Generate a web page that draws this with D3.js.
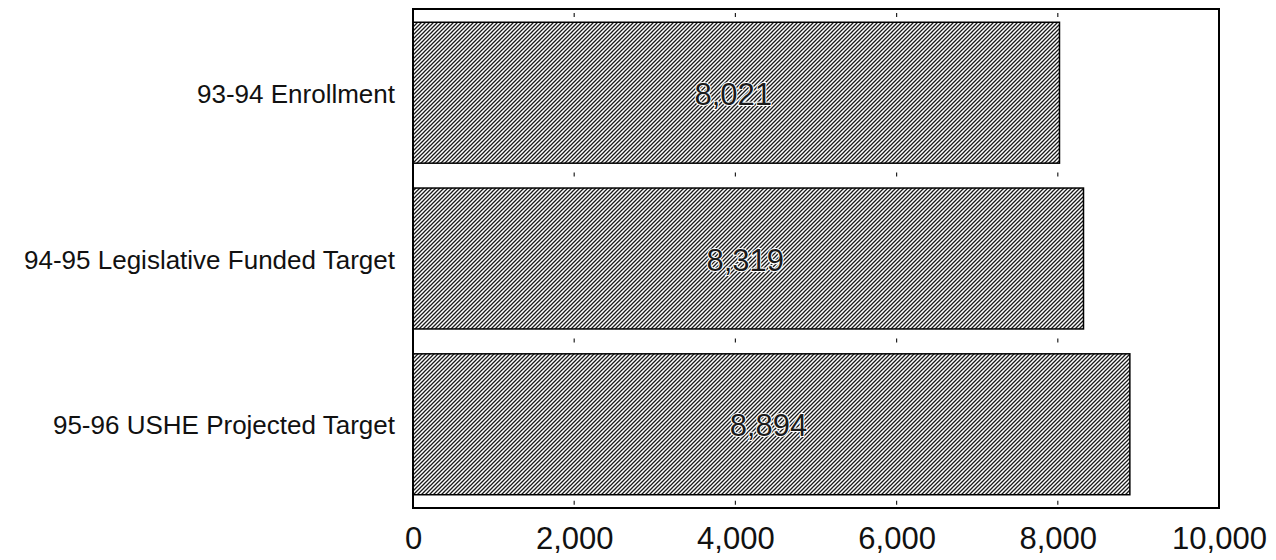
<!DOCTYPE html>
<html>
<head>
<meta charset="utf-8">
<script src="https://cdn.jsdelivr.net/npm/d3@7"></script>
<style>
  body { margin: 0; background: #fff; }
  text { font-family: "Liberation Sans", Arial, Helvetica, sans-serif; fill: #111; }
</style>
</head>
<body>
<div id="chart"></div>
<script>
// chart values
const categories = ["93-94 Enrollment", "94-95 Legislative Funded Target", "95-96 USHE Projected Target"];
const enrollment = [8021, 8319, 8894];
const xTicks = [0, 2000, 4000, 6000, 8000, 10000];

const width = 1276, height = 560;
const margin = {top: 9, right: 57, bottom: 52, left: 413};

const svg = d3.select("#chart").append("svg")
    .attr("width", width).attr("height", height);

// diagonal hatch like the scanned original
const pat = svg.append("defs").append("pattern")
    .attr("id", "hatch")
    .attr("patternUnits", "userSpaceOnUse")
    .attr("width", 4).attr("height", 4);
pat.append("rect").attr("width", 4).attr("height", 4).attr("fill", "#fff");
pat.append("path")
    .attr("d", "M-1,1 l2,-2 M0,4 l4,-4 M3,5 l2,-2")
    .attr("stroke", "#1a1a1a").attr("stroke-width", 1.3);

const x = d3.scaleLinear()
    .domain([0, 10000])
    .range([margin.left, width - margin.right]);

const y = d3.scaleBand()
    .domain(categories)
    .range([margin.top, height - margin.bottom])
    .paddingInner(0.15)
    .paddingOuter(0.08);

const data = categories.map((c, i) => ({cat: c, val: enrollment[i]}));

// bars
svg.selectAll("rect.bar").data(data)
    .join("rect")
    .attr("class", "bar")
    .attr("x", x(0))
    .attr("y", d => y(d.cat))
    .attr("width", d => x(d.val) - x(0))
    .attr("height", y.bandwidth())
    .attr("fill", "url(#hatch)")
    .attr("stroke", "#000")
    .attr("stroke-width", 1.5);

// tiny tick marks in the gaps between bars
const gapY = categories.map(c => y(c) - y.step() * y.paddingInner() / 2 - 1)
    .concat([y(categories[categories.length - 1]) + y.bandwidth() + 8]);
gapY[0] = margin.top + 6;
gapY.forEach(gy => {
    svg.selectAll(null).data(xTicks.slice(1, -1))
        .join("line")
        .attr("x1", d => x(d)).attr("x2", d => x(d))
        .attr("y1", gy - 2).attr("y2", gy + 2)
        .attr("stroke", "#222").attr("stroke-width", 1.2);
});

// frame
svg.append("rect")
    .attr("x", x(0)).attr("y", margin.top)
    .attr("width", x(10000) - x(0))
    .attr("height", height - margin.bottom - margin.top)
    .attr("fill", "none")
    .attr("stroke", "#000")
    .attr("stroke-width", 2);

// value labels inside bars
svg.selectAll("text.val").data(data)
    .join("text")
    .attr("class", "val")
    .attr("x", d => (x(0) + x(d.val)) / 2 - 3)
    .attr("y", d => y(d.cat) + y.bandwidth() / 2 + 12)
    .attr("text-anchor", "middle")
    .attr("font-size", 31)
    .attr("stroke", "#fff")
    .attr("stroke-width", 2)
    .attr("paint-order", "stroke")
    .style("fill", "#1a1a1a")
    .text(d => d3.format(",")(d.val));

// category labels
svg.selectAll("text.cat").data(data)
    .join("text")
    .attr("class", "cat")
    .attr("x", margin.left - 18)
    .attr("y", d => y(d.cat) + y.bandwidth() / 2 + 10)
    .attr("text-anchor", "end")
    .attr("font-size", 26)
    .text(d => d.cat);

// x axis labels
const xAxis = d3.axisBottom(x)
    .tickValues(xTicks)
    .tickSize(0)
    .tickPadding(19)
    .tickFormat(d3.format(","));
const ax = svg.append("g")
    .attr("transform", `translate(0,${height - margin.bottom})`)
    .call(xAxis);
ax.select(".domain").remove();
ax.selectAll("text")
    .attr("font-size", 31)
    .style("font-family", "'Liberation Sans', Arial, sans-serif")
    .style("fill", "#111");
</script>
</body>
</html>
